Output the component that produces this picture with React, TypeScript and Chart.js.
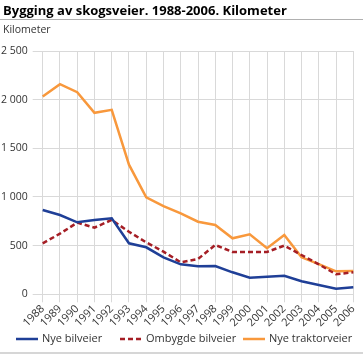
import React, { useEffect, useRef } from "react";
import { Chart, registerables } from "chart.js";

Chart.register(...registerables);

const title = "Bygging av skogsveier. 1988-2006. Kilometer";
const unitLabel = "Kilometer";
const years = ["1988","1989","1990","1991","1992","1993","1994","1995","1996","1997","1998","1999","2000","2001","2002","2003","2004","2005","2006"];
const nyeBilveier = [866, 815, 740, 764, 781, 524, 483, 380, 308, 288, 291, 226, 171, 181, 191, 134, 96, 58, 72];
const ombygdeBilveier = [524, 623, 736, 685, 764, 643, 534, 438, 329, 363, 507, 435, 435, 435, 500, 404, 308, 206, 226];
const nyeTraktorveier = [2032, 2159, 2077, 1865, 1895, 1332, 997, 907, 832, 746, 712, 575, 616, 473, 609, 380, 311, 236, 240];
const seriesNames = ["Nye bilveier", "Ombygde bilveier", "Nye traktorveier"];
const yTicks = [0, 500, 1000, 1500, 2000, 2500];

const FONT = "'Open Sans', sans-serif";
const TEXT = "#333333";
const GRID = "#d9d9d9";
const colors = ["#1f3f97", "#a51e25", "#f8983c"];

function fmt(v: number) {
  return String(v).replace(/\B(?=(\d{3})+(?!\d))/g, " ");
}

const decorPlugin = {
  id: "decor",
  afterDraw(chart: any) {
    const ctx = chart.ctx as CanvasRenderingContext2D;
    const W = chart.width;
    ctx.save();
    // title
    ctx.fillStyle = "#000";
    ctx.font = `bold 13px ${FONT}`;
    ctx.textBaseline = "alphabetic";
    ctx.textAlign = "left";
    ctx.fillText(title, 3, 15);
    ctx.strokeStyle = "#b0b0b0";
    ctx.lineWidth = 1;
    ctx.beginPath();
    ctx.moveTo(0, 19.5);
    ctx.lineTo(W, 19.5);
    ctx.stroke();
    // unit
    ctx.fillStyle = TEXT;
    ctx.font = `10.5px ${FONT}`;
    ctx.textBaseline = "middle";
    ctx.fillText(unitLabel, 3, 30);
    // legend
    const xs = [16, 120, 243];
    const ly = 339;
    chart.data.datasets.forEach((ds: any, i: number) => {
      ctx.strokeStyle = ds.borderColor;
      ctx.lineWidth = 2.5;
      ctx.setLineDash(ds.borderDash || []);
      ctx.beginPath();
      ctx.moveTo(xs[i], ly);
      ctx.lineTo(xs[i] + 22, ly);
      ctx.stroke();
      ctx.setLineDash([]);
      ctx.fillStyle = TEXT;
      ctx.font = `11px ${FONT}`;
      ctx.textBaseline = "middle";
      ctx.fillText(ds.label, xs[i] + 26, ly);
    });
    ctx.strokeStyle = "#c8c8c8";
    ctx.lineWidth = 1.5;
    ctx.beginPath();
    ctx.moveTo(0, 353);
    ctx.lineTo(W, 353);
    ctx.stroke();
    ctx.restore();
  },
};

export default function App() {
  const ref = useRef<HTMLCanvasElement>(null);
  useEffect(() => {
    if (!ref.current) return;
    const chart = new Chart(ref.current, {
      type: "line",
      data: {
        labels: years,
        datasets: [
          { label: seriesNames[0], data: nyeBilveier, borderColor: colors[0], backgroundColor: colors[0], borderWidth: 2.5, pointRadius: 0, tension: 0 },
          { label: seriesNames[1], data: ombygdeBilveier, borderColor: colors[1], backgroundColor: colors[1], borderWidth: 2.5, borderDash: [5, 3], pointRadius: 0, tension: 0 },
          { label: seriesNames[2], data: nyeTraktorveier, borderColor: colors[2], backgroundColor: colors[2], borderWidth: 2.5, pointRadius: 0, tension: 0 },
        ],
      },
      options: {
        responsive: false,
        animation: false,
        layout: { padding: { top: 51, right: 9.7, bottom: 20, left: 0 } },
        plugins: { legend: { display: false }, title: { display: false }, tooltip: { enabled: false } },
        scales: {
          x: {
            type: "category",
            offset: false,
            grid: { color: GRID, lineWidth: 1, tickLength: 8, drawOnChartArea: true },
            border: { display: false },
            ticks: { color: TEXT, font: { family: FONT, size: 11 }, maxRotation: 45, minRotation: 45, padding: 0, autoSkip: false },
            afterFit: (s: any) => { s.height = 356 - 294.3 - 20; },
          },
          y: {
            min: 0,
            max: 2500,
            afterBuildTicks: (s: any) => { s.ticks = yTicks.map((v) => ({ value: v })); },
            grid: { color: GRID, lineWidth: 1, tickLength: 10 },
            border: { display: false },
            ticks: { color: TEXT, font: { family: FONT, size: 10.5 }, padding: 5, callback: (v: any) => fmt(Number(v)) },
            afterFit: (s: any) => { s.width = 42.7; },
          },
        },
      },
      plugins: [decorPlugin],
    });
    return () => chart.destroy();
  }, []);
  return (
    <div style={{ position: "absolute", left: 0, top: 0, width: 363, height: 356 }}>
      <canvas ref={ref} width={363} height={356} style={{ width: 363, height: 356, display: "block" }} />
    </div>
  );
}
